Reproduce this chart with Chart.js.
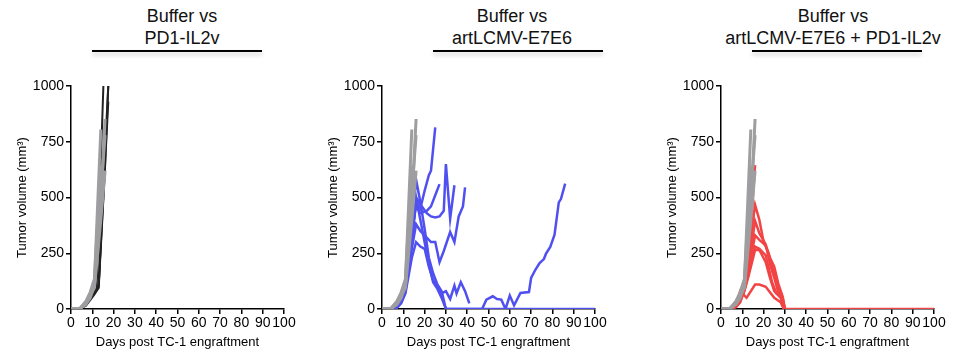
<!DOCTYPE html>
<html>
<head>
<meta charset="utf-8">
<script src="https://cdn.jsdelivr.net/npm/chart.js@4.4.1/dist/chart.umd.min.js"></script>
<style>
  body { margin: 0; background: #fff; width: 959px; height: 351px; overflow: hidden; position: relative; font-family: "Liberation Sans", Arial, sans-serif; }
  canvas { position: absolute; top: 0; }
  .title { position: absolute; top: 5px; width: 300px; text-align: center; font-size: 18px; line-height: 22px; color: #111; white-space: nowrap; }
  .bar { position: absolute; top: 50px; height: 2px; background: #000; box-shadow: 0 3px 4px rgba(0,0,0,0.22); }
</style>
</head>
<body>
<div class="title" style="left:32px">Buffer vs<br>PD1-IL2v</div>
<div class="bar" style="left:92px;width:170px"></div>
<div class="title" style="left:362px">Buffer vs<br>artLCMV-E7E6</div>
<div class="bar" style="left:433px;width:170px"></div>
<div class="title" style="left:683px">Buffer vs<br>artLCMV-E7E6 + PD1-IL2v</div>
<div class="bar" style="left:752px;width:170px"></div>

<canvas id="c1" width="300" height="351" style="left:0px"></canvas>
<canvas id="c2" width="300" height="351" style="left:311px"></canvas>
<canvas id="c3" width="300" height="351" style="left:650px"></canvas>

<script>
// tick labels
const dayTicks = [0, 10, 20, 30, 40, 50, 60, 70, 80, 90, 100];
const volumeTicks = [0, 250, 500, 750, 1000];

// [day, tumor volume mm3] per mouse
const bufferMice = [
  [[0,0],[4,0],[7,30],[9,65],[11,125],[14,805]],
  [[0,0],[4,0],[7,25],[9,55],[11,105],[14,470],[16,852]],
  [[0,0],[4,0],[7,35],[9,75],[11,135],[14,630],[16,600]],
  [[0,0],[4,0],[7,20],[9,50],[11,110],[14,520],[16,780]],
  [[0,0],[4,0],[7,28],[9,60],[11,95],[14,400],[16,620]]
];

const pd1Mice = [
  [[0,0],[4,0],[7,20],[9,45],[11,70],[12,85],[15.2,1000]],
  [[0,0],[4,0],[7,15],[9,40],[11,65],[13,95],[16,640],[17.5,1000]],
  [[0,0],[4,0],[7,22],[9,50],[11,80],[13,110],[15.5,560],[17.5,930]],
  [[0,0],[4,0],[7,18],[9,45],[11,75],[13,100],[16,720],[17.5,1000]]
];

const lcmvMice = [
  [[0,0],[4,0],[7,12],[9,40],[11,95],[14,320],[16,480],[18,450],[20,530],[22,600],[23,620],[25,815]],
  [[0,0],[4,0],[7,10],[9,35],[11,90],[14,300],[16,500],[18,470],[21,430],[23,415],[25,410],[27,415],[29,440],[30,650],[32,405],[34,555]],
  [[0,0],[4,0],[7,15],[9,45],[11,110],[14,270],[16,380],[18,350],[21,320],[23,300],[25,300],[27,210],[29,260],[32,345],[34,300],[36,415],[38,460],[39,545]],
  [[0,0],[4,0],[7,8],[9,30],[11,80],[14,350],[16,460],[18,430],[21,440],[23,460],[25,510],[27,560]],
  [[0,0],[4,0],[7,10],[9,35],[11,100],[14,380],[16,580],[18,480],[20,360],[22,230],[24,160],[26,110],[28,80],[30,0],[40,0],[60,0],[80,0],[100,0]],
  [[0,0],[4,0],[7,5],[9,25],[11,70],[14,230],[16,300],[18,280],[20,270],[22,190],[24,130],[26,100],[28,70],[30,80],[32,45],[34,105],[35,70],[37,120],[39,80],[41,25]],
  [[0,0],[4,0],[7,10],[9,30],[11,75],[14,300],[16,500],[18,400],[20,300],[22,200],[24,120],[26,90],[28,50],[30,0],[35,0],[40,0],[47,0],[49,42],[52,57],[54,45],[56,42],[58,0],[60,60],[62,16],[65,72],[69,76],[70,139],[72,176],[74,206],[76,224],[77,248],[79,278],[81,333],[83,478],[84,493],[86,562]]
];

const comboMice = [
  [[0,0],[4,0],[7,12],[9,45],[11,100],[13,220],[16,645]],
  [[0,0],[4,0],[7,15],[9,50],[11,95],[13,250],[16,467],[18,400],[20,300],[22,260],[25,160],[27,90],[29,40],[30,0],[40,0],[60,0],[80,0],[100,0]],
  [[0,0],[4,0],[7,10],[9,40],[11,90],[13,200],[16,395],[18,340],[21,290],[23,200],[25,140],[27,70],[29,45],[30,0]],
  [[0,0],[4,0],[7,14],[9,45],[11,100],[13,180],[16,330],[18,310],[21,285],[23,230],[25,190],[27,110],[29,55],[30,0]],
  [[0,0],[4,0],[7,8],[9,30],[11,85],[13,160],[16,280],[18,270],[21,240],[24,120],[26,70],[28,60],[29.5,0]],
  [[0,0],[4,0],[7,10],[9,35],[11,80],[13,150],[16,265],[18,265],[21,210],[23,140],[25,80],[28,50],[29.5,0]],
  [[0,0],[4,0],[7,20],[9,80],[12,50],[16,110],[18,110],[21,100],[25,50],[28,30],[29.5,0]]
];

Chart.defaults.font.family = '"Liberation Sans", Arial, sans-serif';
Chart.defaults.color = '#000';

function toSets(mice, color, width) {
  return mice.map(m => ({
    data: m.map(p => ({x: p[0], y: p[1]})),
    borderColor: color,
    borderWidth: width,
    pointRadius: 0,
    tension: 0,
    fill: false
  }));
}

function makePanel(id, treated, color, width) {
  // buffer first so it sits on top
  const datasets = toSets(bufferMice, '#9e9ea0', 3).concat(toSets(treated, color, width));
  new Chart(document.getElementById(id), {
    type: 'line',
    data: { datasets: datasets },
    options: {
      responsive: false,
      animation: false,
      layout: { padding: { top: 86, right: 16, left: 0, bottom: 0 } },
      plugins: { legend: { display: false }, tooltip: { enabled: false } },
      scales: {
        x: {
          type: 'linear', min: 0, max: 100,
          afterBuildTicks: s => { s.ticks = dayTicks.map(v => ({value: v})); },
          afterFit: s => { s.height = 42; },
          ticks: { font: { size: 14 }, padding: 1, maxRotation: 0, autoSkip: false, callback: v => String(v) },
          grid: { drawOnChartArea: false, color: '#000', lineWidth: 1.5, tickLength: 5 },
          border: { color: '#000', width: 1.5 },
          title: { display: true, text: 'Days post TC-1 engraftment', font: { size: 13 }, padding: { top: 0, bottom: 1 } }
        },
        y: {
          min: 0, max: 1000,
          afterBuildTicks: s => { s.ticks = volumeTicks.map(v => ({value: v})); },
          afterFit: s => { s.width = 71; },
          ticks: { font: { size: 14 }, padding: 2, callback: v => String(v) },
          grid: { drawOnChartArea: false, color: '#000', lineWidth: 1.5, tickLength: 5 },
          border: { color: '#000', width: 1.5 },
          title: { display: true, text: 'Tumor volume (mm³)', font: { size: 13 }, padding: { top: 15, bottom: 0 } }
        }
      }
    }
  });
}

makePanel('c1', pd1Mice, '#222222', 2);
makePanel('c2', lcmvMice, '#5050f0', 2.5);
makePanel('c3', comboMice, '#f24444', 2.5);
</script>
</body>
</html>
